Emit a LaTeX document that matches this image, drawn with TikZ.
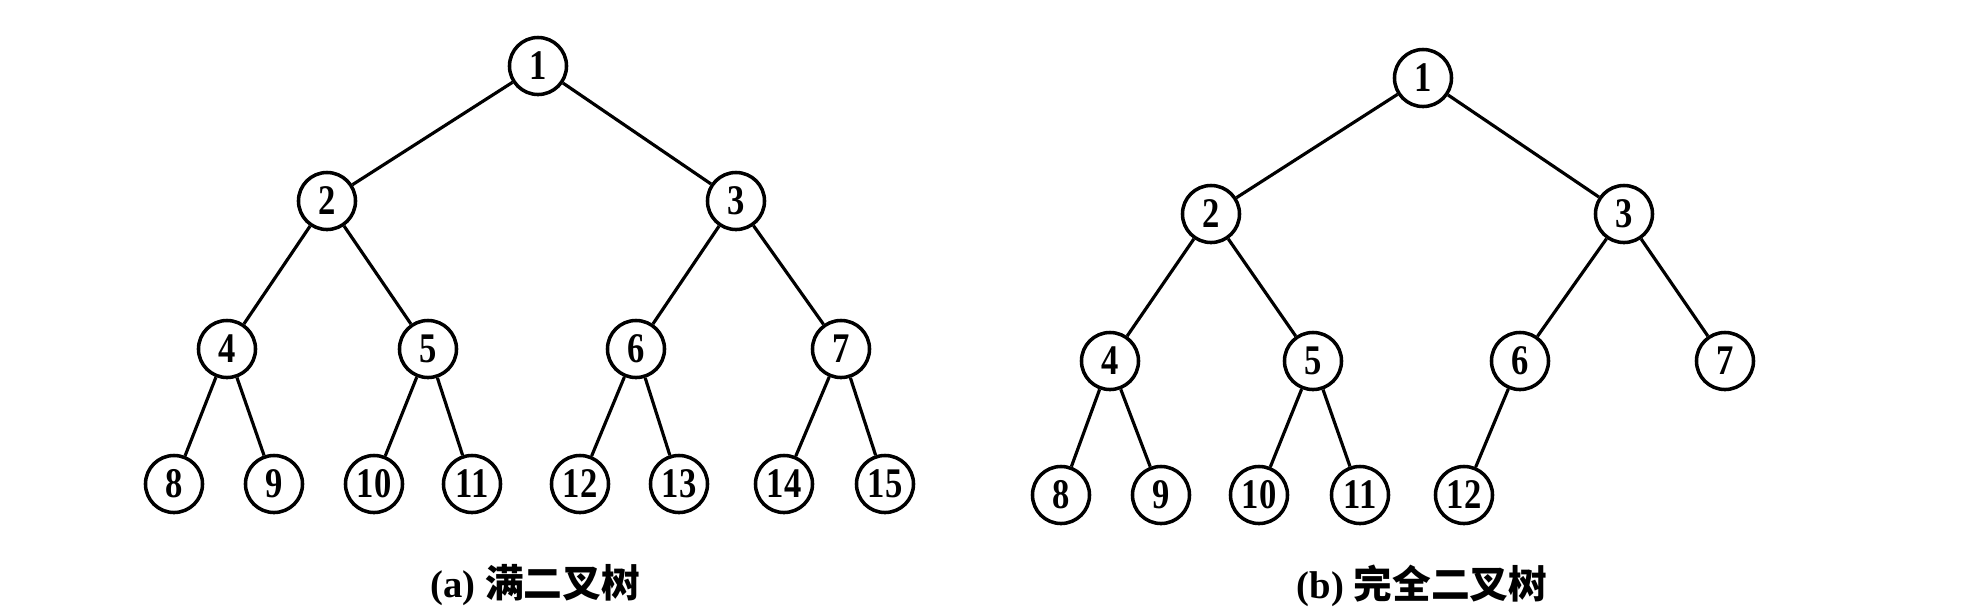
\documentclass[tikz,border=0pt]{standalone}
\usepackage{fontspec}
\setmainfont{Liberation Serif}
\newfontfamily\numfont[FakeStretch=0.82]{Liberation Serif Bold}
\newfontfamily\cjk{Noto Sans CJK SC}
\begin{document}
\begin{tikzpicture}[
  x=0.01cm, y=-0.01cm,
  tnode/.style={circle, draw=black, line width=1pt, fill=white, inner sep=0pt, minimum size=5.7mm, font=\numfont\fontsize{12}{12}\selectfont},
  edge/.style={line width=0.9pt, draw=black},
  caption/.style={font=\fontsize{11}{13}\selectfont\bfseries}
]
  \useasboundingbox (0,0) rectangle (1974,608);

  % (a) full binary tree
  \foreach \i/\x/\y in {1/538/66, 2/327/201, 3/736/201,
      4/227/349, 5/428/349, 6/636/349, 7/841/349,
      8/174/484, 9/274/484, 10/374/484, 11/472/484,
      12/580/484, 13/679/484, 14/784/484, 15/885/484} {
    \node[tnode] (a\i) at (\x,\y) {\i};
  }
  \foreach \i in {2,...,15} {
    \pgfmathtruncatemacro{\p}{\i/2}
    \draw[edge] (a\p) -- (a\i);
  }
  \node[caption] (capa) at (535,585) {(a) {\cjk 满二叉树}};

  % (b) complete binary tree
  \foreach \i/\x/\y in {1/1423/78, 2/1211/214, 3/1624/214,
      4/1110/361, 5/1313/361, 6/1520/361, 7/1725/361,
      8/1061/495, 9/1161/495, 10/1259/495, 11/1360/495, 12/1464/495} {
    \node[tnode] (b\i) at (\x,\y) {\i};
  }
  \foreach \i in {2,...,12} {
    \pgfmathtruncatemacro{\p}{\i/2}
    \draw[edge] (b\p) -- (b\i);
  }
  \node[caption] (capb) at (1422,586) {(b) {\cjk 完全二叉树}};
\end{tikzpicture}
\end{document}
